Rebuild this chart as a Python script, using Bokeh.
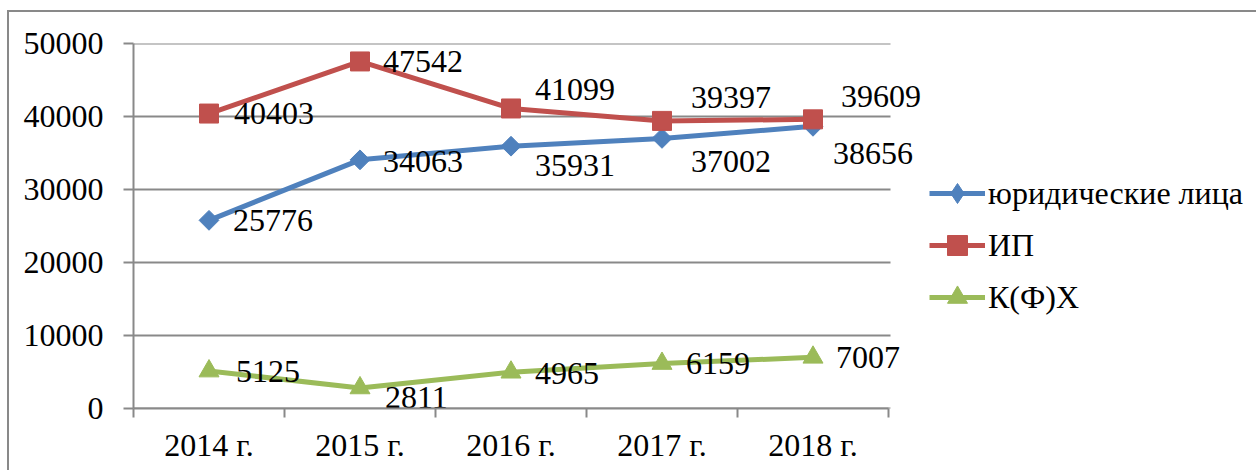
import math
from bokeh.plotting import figure
from bokeh.models import Range1d, FixedTicker, Legend, LegendItem, ColumnDataSource
from bokeh.core.properties import value
from bokeh.embed import file_html
from bokeh.resources import INLINE

# ---- data ----
years = ["2014 г.", "2015 г.", "2016 г.", "2017 г.", "2018 г."]
legal = [25776, 34063, 35931, 37002, 38656]
ip = [40403, 47542, 41099, 39397, 39609]
kfh = [5125, 2811, 4965, 6159, 7007]
series_names = ["юридические лица", "ИП", "К(Ф)Х"]
y_ticks = [0, 10000, 20000, 30000, 40000, 50000]

# ---- styles ----
FONT = "Liberation Serif"
FS = "32px"
GRID = "#898989"
colors = ["#4F81BD", "#C0504D", "#9BBB59"]
# data-label pixel offsets (x, y) per point
label_offsets = [
    [(24, 0), (23, 2), (24, 19), (29, 23), (20, 27)],
    [(25, 0), (23, 0), (24, -19), (29, -23), (28, -23)],
    [(27, 0), (25, 10), (24, 1), (24, 0), (23, 0)],
]

W, H = 1249, 460
LEFT, TOP, BOTTOM = 124, 31, 396
CAT_PX = 151.0
xs = list(range(len(years)))
x_end = -0.5 + (W - LEFT) / CAT_PX   # frame extends to the right edge (legend/labels live there)

p = figure(width=W, height=H,
           x_range=Range1d(-0.5, x_end), y_range=Range1d(0, 50000),
           output_backend="svg", toolbar_location=None,
           min_border_left=LEFT, min_border_right=0,
           min_border_top=TOP, min_border_bottom=H - BOTTOM)
p.styles = {"margin-left": "7px", "margin-top": "10px",
            "border-left": "2px solid #898989", "border-top": "2px solid #898989"}
p.outline_line_color = None
p.background_fill_color = "white"
p.border_fill_color = "white"

# x axis
p.xaxis.bounds = (-0.5, len(years) - 0.5)
p.xaxis.ticker = FixedTicker(ticks=xs, minor_ticks=[i - 0.5 for i in range(len(years) + 1)])
p.xaxis.major_label_overrides = {i: y for i, y in zip(xs, years)}
p.xaxis.major_tick_out = 0
p.xaxis.major_tick_in = 0
p.xaxis.minor_tick_out = 9
p.xaxis.minor_tick_in = 0
p.xaxis.minor_tick_line_color = GRID
p.xaxis.minor_tick_line_width = 2
p.xaxis.axis_line_color = GRID
p.xaxis.axis_line_width = 2
p.xaxis.major_label_standoff = 9
p.xaxis.major_label_text_font = FONT
p.xaxis.major_label_text_font_size = FS
p.xaxis.major_label_text_color = "black"

# y axis
p.yaxis.ticker = FixedTicker(ticks=y_ticks, minor_ticks=[])
p.yaxis.major_tick_out = 10
p.yaxis.major_tick_in = 0
p.yaxis.major_tick_line_color = GRID
p.yaxis.major_tick_line_width = 2
p.yaxis.minor_tick_line_color = None
p.yaxis.axis_line_color = GRID
p.yaxis.axis_line_width = 2
p.yaxis.major_label_standoff = 20
p.yaxis.major_label_text_font = FONT
p.yaxis.major_label_text_font_size = FS
p.yaxis.major_label_text_color = "black"

# horizontal gridlines limited to the category span
p.xgrid.visible = False
p.ygrid.visible = False
p.segment(x0=[-0.5] * len(y_ticks), x1=[len(years) - 0.5 + 2 / CAT_PX] * len(y_ticks),
          y0=y_ticks, y1=y_ticks, line_color=GRID, line_width=2)

items = []
all_series = [legal, ip, kfh]
markers = [("square", math.pi / 4, 14), ("square", 0, 19), ("triangle", 0, 20)]
legend_markers = ["diamond", "square", "triangle"]
for name, vals, col, (mk, ang, sz), lmk in zip(series_names, all_series, colors,
                                               markers, legend_markers):
    src = ColumnDataSource(dict(x=xs, y=vals))
    ln = p.line("x", "y", source=src, line_color=col, line_width=5)
    if lmk != mk or ang != 0:
        # legend marker (legend markers are never rotated): drawn small, fully hidden
        # under the rotated-square markers of the same series
        sc_leg = p.scatter("x", "y", source=src, marker=lmk, size=12,
                           fill_color=col, line_color=col)
    sc = p.scatter("x", "y", source=src, marker=mk, angle=ang, size=sz,
                   fill_color=col, line_color=col)
    if lmk != mk or ang != 0:
        items.append(LegendItem(label=name, renderers=[ln, sc_leg]))
    else:
        items.append(LegendItem(label=name, renderers=[ln, sc]))

for vals, offs in zip(all_series, label_offsets):
    tsrc = ColumnDataSource(dict(x=xs, y=vals, t=[str(v) for v in vals],
                                 xo=[o[0] for o in offs], yo=[o[1] for o in offs]))
    p.text("x", "y", text="t", source=tsrc, x_offset="xo", y_offset="yo",
           text_font=value(FONT), text_font_size=FS, text_color="black",
           text_align="left", text_baseline="middle")

legend = Legend(items=items, location=(796, 86), orientation="vertical",
                glyph_width=56, glyph_height=50, label_height=50, spacing=2,
                label_standoff=3, padding=0, margin=0,
                border_line_color=None, background_fill_alpha=0,
                label_text_font=FONT, label_text_font_size=FS,
                label_text_color="black")
p.add_layout(legend, "center")

open("out.html", "w").write(file_html(p, INLINE))
